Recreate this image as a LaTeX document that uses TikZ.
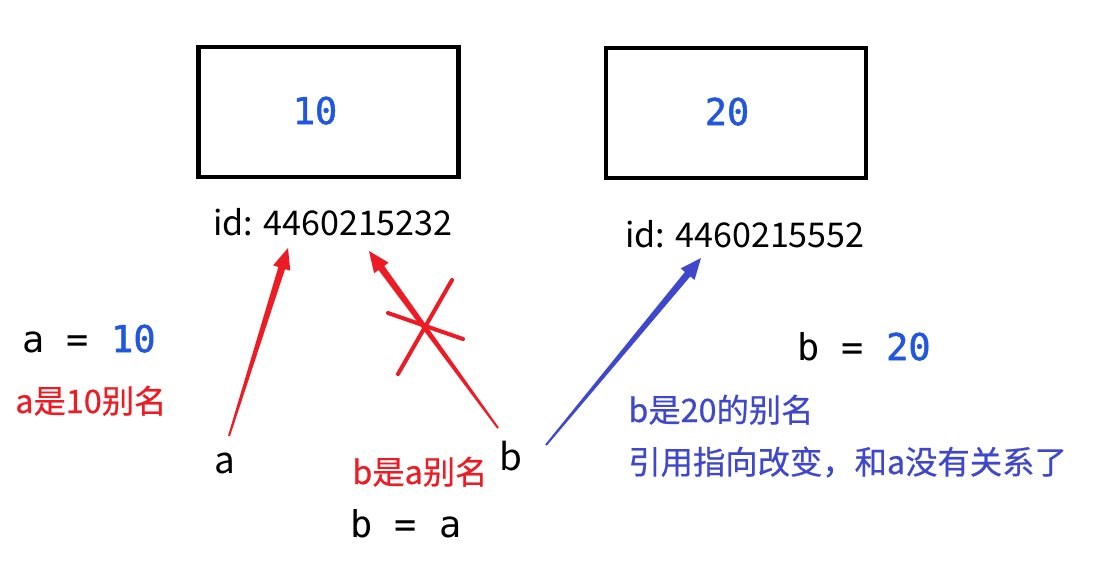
\documentclass[tikz,border=0pt]{standalone}
\usepackage{fontspec}
\usetikzlibrary{calc, positioning}
\newfontfamily\cjk{Noto Sans CJK SC}
\newfontfamily\cjkmid[FakeBold=0.6]{Noto Sans CJK SC}
\newfontfamily\codefont{DejaVu Sans Mono}
\newfontfamily\valfont[FakeBold=1.4]{DejaVu Sans Mono}
\definecolor{aliasred}{HTML}{ED1C24}
\definecolor{valblue}{HTML}{2157E0}
\definecolor{noteblue}{HTML}{3F48CC}

% tapered arrow: tail, tip, colour
\newcommand{\taperarrow}[3]{%
  \coordinate (hb) at ($(#2)!0.42cm!(#1)$);
  \fill[#3] ($(#1)!0.02cm!90:(#2)$) -- ($(hb)!0.07cm!-90:(#1)$)
    -- ($(hb)!0.18cm!-90:(#1)$) -- (#2) -- ($(hb)!0.18cm!90:(#1)$)
    -- ($(hb)!0.07cm!90:(#1)$) -- ($(#1)!0.02cm!-90:(#2)$) -- cycle;}

\begin{document}
\begin{tikzpicture}[
    x=0.02cm, y=-0.02cm,
    box node/.style={draw, line width=2.8pt, minimum width=5.2cm, minimum height=2.6cm},
    value node/.style={font=\valfont\fontsize{21pt}{25pt}\selectfont, text=valblue, inner sep=0pt, anchor=base},
    id node/.style={font=\cjk\fontsize{19.4pt}{23pt}\selectfont, inner sep=0pt, anchor=base},
    code node/.style={font=\codefont\fontsize{21pt}{25pt}\selectfont, inner sep=0pt, anchor=base west},
    var node/.style={font=\cjk\fontsize{21pt}{25pt}\selectfont, inner sep=0pt, anchor=base},
    note node/.style={font=\cjkmid\fontsize{18.4pt}{22pt}\selectfont, inner sep=0pt, anchor=base west},
    cross/.style={aliasred, line width=2.3pt, line cap=round}
]
\useasboundingbox (0,0) rectangle (1104,562);

% Memory boxes
\node[box node] (box10) at (328.5,112) {};
\node[box node] (box20) at (736,113) {};
\node[value node] (v10) at (315,124) {10};
\node[value node] (v20) at (727,125) {20};

% Ids
\node[id node] (id10) at (333,235) {id: 4460215232};
\node[id node] (id20) at (745,247) {id: 4460215552};

% Code lines
\node[code node] (codea) at (22,352) {a = {\valfont\textcolor{valblue}{10}}};
\node[code node] (codeba) at (350,537) {b = a};
\node[code node] (codeb) at (797,360) {b = {\valfont\textcolor{valblue}{20}}};

% Variables
\node[var node] (a) at (225,473) {a};
\node[var node] (b) at (511,470) {b};

% Notes
\node[note node, text=aliasred] (notea) at (15,413) {a是10别名};
\node[note node, text=aliasred] (noteba) at (352,484) {b是a别名};
\node[note node, text=noteblue] (noteb) at (628,422) {b是20的别名};
\node[note node, text=noteblue] (notechange) at (628,474) {引用指向改变，和a没有关系了};

% Arrow ends
\coordinate (a tail) at (229,436);
\coordinate (a tip) at (288,248);
\coordinate (b old tail) at (498,428);
\coordinate (b old tip) at (369,251);
\coordinate (b tail) at (546,445);
\coordinate (b tip) at (701,258);

% Arrows
\taperarrow{a tail}{a tip}{aliasred}
\taperarrow{b old tail}{b old tip}{aliasred}
\taperarrow{b tail}{b tip}{noteblue}

% Cross
\coordinate (x1) at (388,313);
\coordinate (x2) at (463,339);
\coordinate (x3) at (398,374);
\coordinate (x4) at (452,280);
\draw[cross] (x1) -- (x2);
\draw[cross] (x3) -- (x4);
\end{tikzpicture}
\end{document}
